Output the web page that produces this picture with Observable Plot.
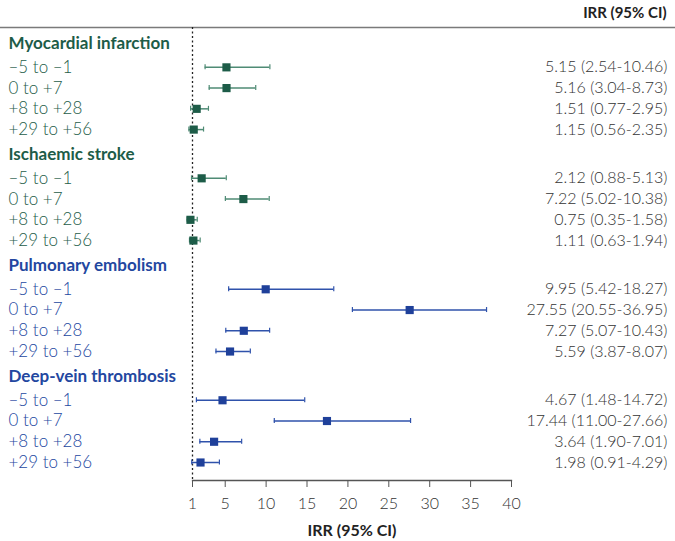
<!DOCTYPE html>
<html>
<head>
<meta charset="utf-8">
<script src="https://cdn.jsdelivr.net/npm/d3@7"></script>
<script src="https://cdn.jsdelivr.net/npm/@observablehq/plot@0.6"></script>
<style>
  body { margin: 0; background: #fff; }
  svg { font-family: Lato, "Open Sans", sans-serif; }
</style>
</head>
<body>
<div id="chart"></div>
<script>
const outcomes = ["Myocardial infarction", "Ischaemic stroke", "Pulmonary embolism", "Deep-vein thrombosis"];
const periods = ["–5 to –1", "0 to +7", "+8 to +28", "+29 to +56"];
const estimates = [
  [5.15, 5.16, 1.51, 1.15],
  [2.12, 7.22, 0.75, 1.11],
  [9.95, 27.55, 7.27, 5.59],
  [4.67, 17.44, 3.64, 1.98]
];
const lowers = [
  [2.54, 3.04, 0.77, 0.56],
  [0.88, 5.02, 0.35, 0.63],
  [5.42, 20.55, 5.07, 3.87],
  [1.48, 11.00, 1.90, 0.91]
];
const uppers = [
  [10.46, 8.73, 2.95, 2.35],
  [5.13, 10.38, 1.58, 1.94],
  [18.27, 36.95, 10.43, 8.07],
  [14.72, 27.66, 7.01, 4.29]
];
const xTicks = [1, 5, 10, 15, 20, 25, 30, 35, 40];
const headerColors = ["#1d5c48", "#1d5c48", "#2347a0", "#2347a0"];
const markColors = ["#1d5c48", "#1d5c48", "#1f409a", "#1f409a"];
const lineColors = ["#4f8b75", "#4f8b75", "#2f52ab", "#2f52ab"];

// Build rows: header then 4 period rows per outcome (row order -> vertical slot)
const headers = [];
const rows = [];
let pos = 0;
outcomes.forEach((o, g) => {
  if (g > 0) pos += 0.2;
  headers.push({pos, label: o, g});
  pos += 1.15;
  periods.forEach((p, i) => {
    rows.push({pos, label: p, g, est: estimates[g][i], lo: lowers[g][i], hi: uppers[g][i],
      txt: `${estimates[g][i].toFixed(2)} (${lowers[g][i].toFixed(2)}-${uppers[g][i].toFixed(2)})`});
    pos += 1;
  });
});
const lastPos = rows[rows.length - 1].pos;

const chart = Plot.plot({
  width: 675,
  height: 541,
  marginLeft: 192,
  marginRight: 164,
  marginTop: 27,
  marginBottom: 61,
  style: {fontFamily: "Lato, 'Open Sans', sans-serif", background: "#fff"},
  x: {type: "linear", domain: [1, 40], label: null},
  y: {type: "linear", domain: [0, lastPos], range: [43, 462], axis: null},
  marks: [
    Plot.frame({anchor: "top", stroke: "#7a7a7a", strokeWidth: 1.6, insetLeft: -192, insetRight: -164}),
    Plot.ruleX([1], {stroke: "#222", strokeWidth: 1.3, strokeDasharray: "2,2.5"}),
    Plot.frame({anchor: "bottom", stroke: "#555", strokeWidth: 1.3}),
    Plot.axisX({ticks: xTicks, tickFormat: d => String(d), tickSize: 7, tickPadding: 10, fontSize: 16, fontWeight: 300, stroke: "#555", fill: "#333", label: null}),
    Plot.ruleY(rows, {y: "pos", x1: "lo", x2: "hi", stroke: d => lineColors[d.g], strokeWidth: 1.5}),
    Plot.ruleX(rows, {x: "lo", y1: "pos", y2: "pos", insetTop: -2.5, insetBottom: -2.5, stroke: d => lineColors[d.g], strokeWidth: 1.2}),
    Plot.ruleX(rows, {x: "hi", y1: "pos", y2: "pos", insetTop: -2.5, insetBottom: -2.5, stroke: d => lineColors[d.g], strokeWidth: 1.2}),
    Plot.dot(rows, {x: "est", y: "pos", symbol: "square", r: 4.6, fill: d => markColors[d.g], stroke: "none"}),
    Plot.text(headers, {y: "pos", text: "label", frameAnchor: "left", dx: -184, textAnchor: "start", fontSize: 17, fontWeight: "bold", fill: d => headerColors[d.g]}),
    Plot.text(rows, {y: "pos", text: "label", frameAnchor: "left", dx: -184, textAnchor: "start", fontSize: 17, fontWeight: 300, fill: d => headerColors[d.g]}),
    Plot.text(rows, {y: "pos", text: "txt", frameAnchor: "right", dx: 156, textAnchor: "end", fontSize: 16, fontWeight: 300, fill: "#333"}),
    Plot.text(["IRR (95% CI)"], {frameAnchor: "top-right", lineAnchor: "middle", dx: 155, dy: -14, textAnchor: "end", fontSize: 15, fontWeight: "bold", fill: "#222"}),
    Plot.text(["IRR (95% CI)"], {frameAnchor: "bottom", lineAnchor: "middle", dy: 50, fontSize: 16, fontWeight: "bold", fill: "#222"})
  ]
});
document.getElementById("chart").appendChild(chart);
</script>
</body>
</html>
